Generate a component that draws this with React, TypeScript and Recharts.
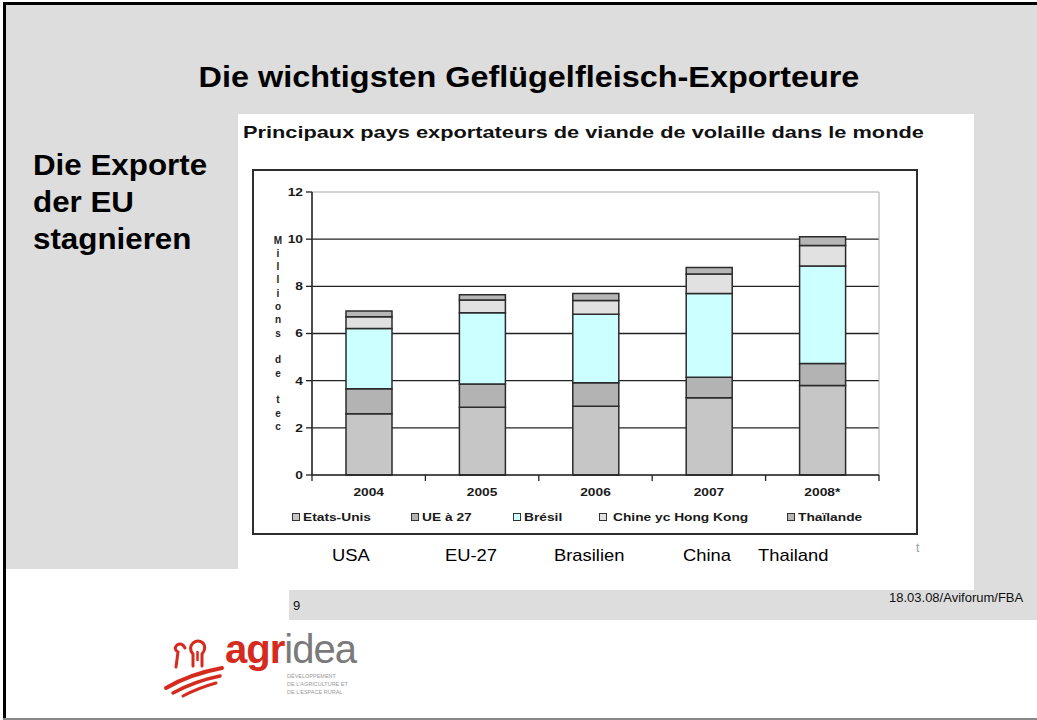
import { BarChart, Bar, XAxis, YAxis, CartesianGrid, Legend, ReferenceArea, Label } from 'recharts';

// values (millions de tec)
const years = ['2004', '2005', '2006', '2007', '2008*'];
const etatsUnis = [2.6, 2.87, 2.92, 3.28, 3.8];
const ue27 = [1.06, 0.99, 0.99, 0.86, 0.93];
const bresil = [2.55, 3.02, 2.91, 3.56, 4.13];
const chine = [0.5, 0.54, 0.58, 0.82, 0.87];
const thailande = [0.24, 0.22, 0.3, 0.28, 0.37];

const seriesNames = ['Etats-Unis', 'UE à 27', 'Brésil', 'Chine yc Hong Kong', 'Thaïlande'];
const yTicks = [0, 2, 4, 6, 8, 10, 12];
const gridValues = [2, 4, 6, 8, 10];
const countryNames = ['USA', 'EU-27', 'Brasilien', 'China', 'Thailand'];
const yAxisTitle = 'Millions de tec';

const seriesKeys = ['usa', 'ue', 'bre', 'chn', 'tha'];
const seriesColors = ['#c6c6c6', '#b3b3b3', '#ccffff', '#e1e1e1', '#b6b6b6'];

// layout only
const legendLeft = [40, 159, 261, 347, 535];
const countryLeft = [332, 445, 554, 683, 758];

const FONT = '"Liberation Sans", Arial, sans-serif';
const GRAY = '#dddddd';

const data = years.map((year, i) => ({
  year,
  usa: etatsUnis[i],
  ue: ue27[i],
  bre: bresil[i],
  chn: chine[i],
  tha: thailande[i],
}));

function YearTick(props: any) {
  const { x, y, payload, width, visibleTicksCount, index } = props;
  const half = payload?.offset || width / visibleTicksCount / 2;
  const last = index === visibleTicksCount - 1;
  return (
    <g>
      <line x1={x - half} y1={y} x2={x - half} y2={y + 6} stroke="#222" strokeWidth={1.3} />
      {last && <line x1={x + half} y1={y} x2={x + half} y2={y + 6} stroke="#222" strokeWidth={1.3} />}
      <text
        transform={`translate(${x},${y + 21}) scale(1.25,1)`}
        textAnchor="middle"
        fontSize={11}
        fontWeight="bold"
        fill="#1a1a1a"
        fontFamily={FONT}
      >
        {payload.value}
      </text>
    </g>
  );
}

function ValueTick(props: any) {
  const { x, y, payload } = props;
  return (
    <text
      transform={`translate(${x},${y}) scale(1.25,1)`}
      textAnchor="end"
      dy="0.36em"
      fontSize={11}
      fontWeight="bold"
      fill="#1a1a1a"
      fontFamily={FONT}
    >
      {payload.value}
    </text>
  );
}

function AxisTitle(props: any) {
  const vb = props.viewBox || {};
  const x = (vb.x ?? 0) + 26;
  const y = (vb.y ?? 23) + 48;
  return (
    <text textAnchor="middle" fontSize={10} fontWeight="bold" fill="#222" fontFamily={FONT}>
      {yAxisTitle.split('').map((ch, i) => (
        <tspan key={i} x={x} y={y + i * 13.33} dy="0.35em">
          {ch === ' ' ? '\u00a0' : ch}
        </tspan>
      ))}
    </text>
  );
}

function LegendRow() {
  return (
    <div style={{ position: 'relative', height: 20, fontFamily: FONT, fontWeight: 'bold', fontSize: 11, color: '#1a1a1a' }}>
      {seriesNames.map((name, i) => (
        <div
          key={name}
          style={{ position: 'absolute', left: legendLeft[i], top: 0, height: 20, display: 'flex', alignItems: 'center', whiteSpace: 'nowrap' }}
        >
          <span
            style={{ width: 6, height: 6, border: '1px solid #333', background: seriesColors[i], marginRight: i === 3 ? 6 : 3 }}
          />
          <span style={{ display: 'inline-block', transform: 'scaleX(1.25)', transformOrigin: 'left center' }}>{name}</span>
        </div>
      ))}
    </div>
  );
}

function Logo() {
  const red = '#d52b1e';
  return (
    <svg width={240} height={95} style={{ position: 'absolute', left: 160, top: 618 }}>
      <g transform="translate(0,12)">
        <g fill="none" stroke={red} strokeLinecap="round">
          <path d="M25 18 Q22 12 17 15 Q13 19 18 22 L16 37" strokeWidth={3} />
          <path d="M33 36 L33 24 Q28 18 33 13 Q38 9 43 13 Q47 18 42 24 L42 36" strokeWidth={3} />
          <path d="M37.5 22 L37.5 30" strokeWidth={2.5} />
          <path d="M6 58 Q30 44 62 38" strokeWidth={4} />
          <path d="M13 63 Q35 51 60 46" strokeWidth={3.5} />
          <path d="M23 66 Q38 58 56 53" strokeWidth={3} />
        </g>
        <text x={65} y={33} fontSize={40} fontFamily={FONT} letterSpacing={-1}>
          <tspan fill={red} fontWeight="bold">agr</tspan>
          <tspan fill="#7a7a7a">idea</tspan>
        </text>
        <g fontSize={5.5} fill="#9a9a9a" fontFamily={FONT}>
          <text x={127} y={48}>DÉVELOPPEMENT</text>
          <text x={127} y={56}>DE L'AGRICULTURE ET</text>
          <text x={127} y={64}>DE L'ESPACE RURAL</text>
        </g>
      </g>
    </svg>
  );
}

export default function App() {
  return (
    <div style={{ position: 'absolute', left: 0, top: 0, width: 1037, height: 720, overflow: 'hidden', background: '#fff', fontFamily: FONT }}>
      {/* slide background */}
      <div style={{ position: 'absolute', left: 6, top: 5, width: 1031, height: 564, background: GRAY }} />
      <div style={{ position: 'absolute', left: 974, top: 5, width: 63, height: 585, background: GRAY }} />
      <div style={{ position: 'absolute', left: 289, top: 590, width: 748, height: 30, background: GRAY }} />
      <div style={{ position: 'absolute', left: 238, top: 114, width: 736, height: 455, background: '#fff' }} />
      <div style={{ position: 'absolute', left: 3, top: 2, width: 1034, height: 3, background: '#000' }} />
      <div style={{ position: 'absolute', left: 3, top: 2, width: 3, height: 718, background: '#000' }} />
      <div style={{ position: 'absolute', left: 3, top: 718, width: 1034, height: 2, background: '#888' }} />

      <div
        style={{ position: 'absolute', left: 20, top: 59, width: 1018, lineHeight: '36px', textAlign: 'center', fontSize: 30, fontWeight: 'bold', color: '#000', transform: 'scaleX(1.08)' }}
      >
        Die wichtigsten Geflügelfleisch-Exporteure
      </div>

      <div
        style={{ position: 'absolute', left: 33, top: 147, lineHeight: '37px', fontSize: 29, fontWeight: 'bold', color: '#000', transform: 'scaleX(1.08)', transformOrigin: 'left top', whiteSpace: 'nowrap' }}
      >
        Die Exporte
        <br />
        der EU
        <br />
        stagnieren
      </div>

      <div
        style={{ position: 'absolute', left: 243, top: 123, lineHeight: '20px', fontSize: 17, fontWeight: 'bold', color: '#111', transform: 'scaleX(1.28)', transformOrigin: 'left center', whiteSpace: 'nowrap' }}
      >
        Principaux pays exportateurs de viande de volaille dans le monde
      </div>

      <div style={{ position: 'absolute', left: 252, top: 169, width: 666, height: 366, boxShadow: 'inset 0 0 0 2px #2e2e2e' }}>
        <BarChart width={666} height={366} data={data} margin={{ top: 23, right: 39, bottom: 8, left: 0 }} barSize={46}>
          <CartesianGrid horizontal vertical={false} horizontalValues={gridValues} stroke="#222" strokeWidth={1.3} />
          <ReferenceArea y1={0} y2={12} fill="none" stroke="#a8a8a8" strokeWidth={1} />
          {seriesKeys.map((key, i) => (
            <Bar
              key={key}
              dataKey={key}
              name={seriesNames[i]}
              stackId="exports"
              fill={seriesColors[i]}
              stroke="#2b2b2b"
              strokeWidth={1.5}
              isAnimationActive={false}
            />
          ))}
          <XAxis
            dataKey="year"
            height={32}
            interval={0}
            tickSize={0}
            tickMargin={0}
            tick={<YearTick />}
            axisLine={{ stroke: '#222', strokeWidth: 1.5 }}
            tickLine={false}
          />
          <YAxis
            type="number"
            domain={[0, 12]}
            ticks={yTicks}
            interval={0}
            width={60}
            tickSize={6}
            tickMargin={3}
            tick={<ValueTick />}
            axisLine={{ stroke: '#222', strokeWidth: 1.5 }}
            tickLine={{ stroke: '#222', strokeWidth: 1.3 }}
          >
            <Label content={<AxisTitle />} />
          </YAxis>
          <Legend verticalAlign="bottom" content={<LegendRow />} wrapperStyle={{ left: 0, width: 666 }} />
        </BarChart>
      </div>

      {countryNames.map((name, i) => (
        <div
          key={name}
          style={{ position: 'absolute', left: countryLeft[i], top: 545, lineHeight: '22px', fontSize: 17, color: '#000', transform: 'scaleX(1.08)', transformOrigin: 'left center', whiteSpace: 'nowrap' }}
        >
          {name}
        </div>
      ))}
      <div style={{ position: 'absolute', left: 916, top: 540, fontSize: 12, color: '#999', lineHeight: '16px' }}>t</div>

      <div style={{ position: 'absolute', left: 293, top: 598, fontSize: 13, lineHeight: '16px', color: '#111' }}>9</div>
      <div style={{ position: 'absolute', left: 889, top: 590, fontSize: 13, lineHeight: '16px', color: '#111', whiteSpace: 'nowrap' }}>
        18.03.08/Aviforum/FBA
      </div>

      <Logo />
    </div>
  );
}
